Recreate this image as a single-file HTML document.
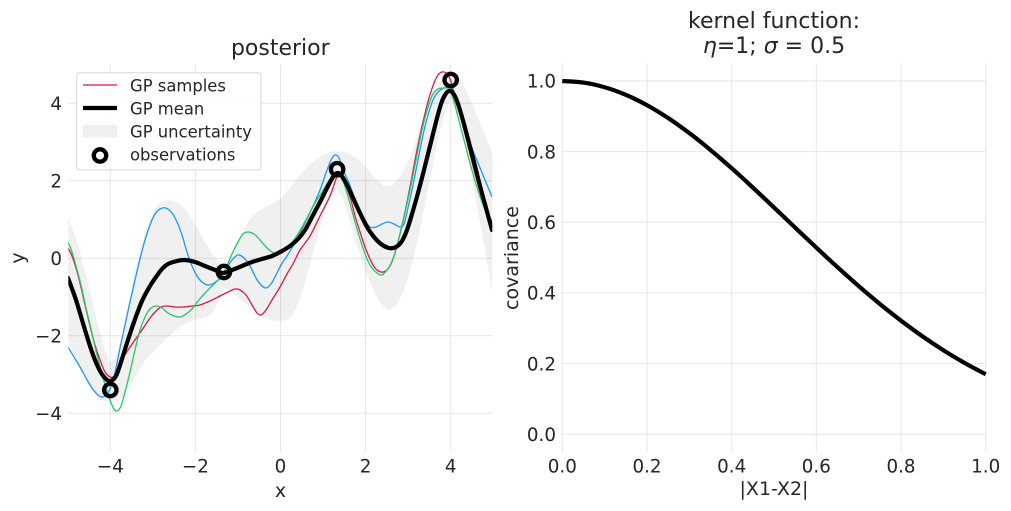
<!DOCTYPE html>
<html>
<head>
<meta charset="utf-8">
<style>
html,body{margin:0;padding:0;background:#fff;}
svg{display:block;font-family:"DejaVu Sans","Liberation Sans",sans-serif;}
.tk{font-size:18.3px;fill:#262626;}
.lb{font-size:19px;fill:#262626;}
.tt{font-size:22px;fill:#262626;}
.lg{font-size:16.4px;fill:#262626;}
.g{stroke:#e6e6e6;stroke-width:1;}
</style>
</head>
<body>
<svg id="svg" width="1011" height="511" viewBox="0 0 1011 511" xmlns="http://www.w3.org/2000/svg">
<defs>
<clipPath id="cl"><rect x="68.3" y="64.5" width="424" height="387.5"/></clipPath>
<clipPath id="cr"><rect x="560" y="60" width="428" height="395"/></clipPath>
</defs>

<!-- LEFT GRID -->
<g class="g">
<line x1="110.3" y1="64.5" x2="110.3" y2="452"/>
<line x1="195.4" y1="64.5" x2="195.4" y2="452"/>
<line x1="280.5" y1="64.5" x2="280.5" y2="452"/>
<line x1="365.6" y1="64.5" x2="365.6" y2="452"/>
<line x1="450.7" y1="64.5" x2="450.7" y2="452"/>
<line x1="68.3" y1="103.3" x2="492.3" y2="103.3"/>
<line x1="68.3" y1="180.8" x2="492.3" y2="180.8"/>
<line x1="68.3" y1="258.3" x2="492.3" y2="258.3"/>
<line x1="68.3" y1="335.8" x2="492.3" y2="335.8"/>
<line x1="68.3" y1="413.3" x2="492.3" y2="413.3"/>
</g>

<!-- RIGHT GRID -->
<g class="g">
<line x1="562.3" y1="63.3" x2="562.3" y2="452"/>
<line x1="647.0" y1="63.3" x2="647.0" y2="452"/>
<line x1="731.7" y1="63.3" x2="731.7" y2="452"/>
<line x1="816.3" y1="63.3" x2="816.3" y2="452"/>
<line x1="901.0" y1="63.3" x2="901.0" y2="452"/>
<line x1="985.7" y1="63.3" x2="985.7" y2="452"/>
<line x1="562.3" y1="434.3" x2="985.7" y2="434.3"/>
<line x1="562.3" y1="363.6" x2="985.7" y2="363.6"/>
<line x1="562.3" y1="292.9" x2="985.7" y2="292.9"/>
<line x1="562.3" y1="222.3" x2="985.7" y2="222.3"/>
<line x1="562.3" y1="151.6" x2="985.7" y2="151.6"/>
<line x1="562.3" y1="81.0" x2="985.7" y2="81.0"/>
</g>

<!-- LEFT PLOT -->
<g clip-path="url(#cl)">
<polygon fill="#000" fill-opacity="0.06" points="
60,210 68,218 74,232 80,252 86,275 92,300 98,325 104,348 110,362 116,357 122,335 128,305 134,276 140,250 147,226 155,208 162,201 170,200 178,203 186,210 195,224 204,240 212,254 220,262 226,264 232,258 238,245 245,228 252,216 260,210 270,205 280,199 290,188 300,175 310,164 320,157 332,151 345,152 355,157 365,166 375,178 384,186 392,186 400,177 410,157 420,128 430,100 440,82 450,73 458,77 466,90 474,108 482,128 492,152 500,170
500,320 492,290 484,245 478,212 472,180 466,148 460,120 455,104 450,101 444,115 438,140 432,170 426,200 420,230 414,256 408,278 402,295 396,306 389,310 381,304 374,292 367,275 360,255 354,236 348,214 342,196 337,191 332,194 326,207 320,228 314,250 308,272 302,293 296,309 290,318 283,321 275,321 265,318 255,311 245,303 237,297 230,290 224,288 218,303 212,314 205,318 195,320 185,324 175,331 165,340 155,350 145,361 138,372 131,385 124,397 117,402 111,399 105,402 98,398 90,388 82,372 75,356 68,340 60,325"/>

<polyline class="sm" fill="none" stroke="#dc1848" stroke-width="1.3" stroke-linejoin="round" points="68,248 72,256 76,268 80,283 85,305 90,326 95,345 100,360 105,372 110,377 114,376 118,367 123,358 130,347 137,337 144,327 150,318 156,311 161,307 167,306 175,307 183,307 192,306 200,305 210,301 220,296 228,292 235,289 240,290 246,295 252,305 257,313 261,315 266,310 272,300 280,287 287,274 294,262 300,250 310,236 320,216 330,196 336,179 339,172 343,177 347,188 351,200 355,216 360,232 365,247 370,259 375,268 381,272 387,270 393,259 399,238 405,212 411,182 417,150 423,122 429,98 434,83 438,75 442,72 446,73 450,79 455,96 460,114 466,138 472,162 478,184 485,205 492,222"/>

<polyline class="sm" fill="none" stroke="#2196f3" stroke-width="1.3" stroke-linejoin="round" points="68,347 74,357 80,367 86,378 92,388 98,395 103,397 108,393 112,383 116,368 120,348 125,325 130,302 135,280 140,259 145,240 150,225 155,214 160,209 166,208 172,213 177,222 182,235 187,252 192,266 197,276 202,282 208,285 214,283 220,278 226,269 232,260 238,255 244,258 250,266 256,278 261,285 266,288 271,284 276,275 281,265 287,256 293,246 300,233 307,219 314,204 320,190 326,173 331,160 335,155 339,158 344,172 349,183 354,196 360,210 365,220 370,227 376,227 382,224 388,222 394,224 400,227 404,224 408,208 413,185 418,160 423,135 428,115 433,100 438,92 444,88 450,87 455,94 460,108 466,128 472,148 478,163 485,180 492,197"/>

<polyline class="sm" fill="none" stroke="#27c766" stroke-width="1.3" stroke-linejoin="round" points="68,242 72,252 76,266 81,285 86,308 91,329 96,351 101,370 106,388 110,400 114,409 117,411 121,406 125,392 130,372 135,350 140,330 145,317 150,309 156,306 162,308 168,313 174,316 180,317 186,314 192,309 198,301 205,293 212,286 220,278 226,268 232,254 238,242 243,234 248,232 254,234 260,240 266,247 272,252 278,254 284,251 290,245 296,237 302,227 308,216 315,203 322,192 328,182 334,174 338,172 342,178 347,193 352,211 357,229 362,245 367,259 372,268 377,273 382,275 387,270 392,262 398,242 404,217 410,190 416,160 422,130 428,107 433,94 438,89 444,88 449,89 453,98 458,117 464,140 470,163 476,184 482,202 487,215 492,227"/>

<polyline class="sm" fill="none" stroke="#000" stroke-width="4.2" stroke-linejoin="round" stroke-linecap="round" points="68,278 76,300 85,330 92,352 98,367 104,377 110,381 116,376 121,362 127,343 134,322 142,301 150,286 156,277 162,269 168,264 177,261 185,260 195,262 205,266 215,270 223,273 232,270 242,266 252,262 262,259 272,256 282,251 290,246 298,239 305,230 312,217 320,202 327,188 333,177 337,173 341,175 347,185 353,198 360,213 367,227 374,237 381,244 389,248 396,247 402,241 407,230 412,214 418,193 424,170 430,146 436,122 441,104 445,95 449,91 453,93 457,101 462,117 468,139 474,162 480,186 486,208 492,230"/>

<g fill="none" stroke="#000" stroke-width="4.3">
<circle cx="110.3" cy="390" r="6.2"/>
<circle cx="223.9" cy="272" r="6.2"/>
<circle cx="337.1" cy="169.2" r="6.2"/>
<circle cx="450.7" cy="80" r="6.2"/>
</g>
</g>

<!-- LEGEND -->
<rect x="76.7" y="72.7" width="184.3" height="97.3" rx="3" ry="3" fill="#fff" fill-opacity="0.85" stroke="#d6d6d6" stroke-width="1"/>
<line x1="83" y1="85" x2="117" y2="85" stroke="#dc1848" stroke-width="1.3"/>
<line x1="83" y1="108" x2="117" y2="108" stroke="#000" stroke-width="4.2" stroke-linecap="butt"/>
<rect x="83" y="125" width="34" height="12.5" fill="#000" fill-opacity="0.06"/>
<circle cx="100" cy="155.5" r="6.2" fill="none" stroke="#000" stroke-width="4.3"/>
<text class="lg" x="130" y="91.5">GP samples</text>
<text class="lg" x="130" y="114.3">GP mean</text>
<text class="lg" x="130" y="137.5">GP uncertainty</text>
<text class="lg" x="130" y="160.7">observations</text>

<!-- LEFT TICKS -->
<g class="tk" text-anchor="end">
<text x="62" y="110">4</text>
<text x="62" y="187.5">2</text>
<text x="62" y="265">0</text>
<text x="62" y="342.5">−2</text>
<text x="62" y="420">−4</text>
</g>
<g class="tk" text-anchor="middle">
<text x="110.3" y="472.5">−4</text>
<text x="195.4" y="472.5">−2</text>
<text x="280.5" y="472.5">0</text>
<text x="365.6" y="472.5">2</text>
<text x="450.7" y="472.5">4</text>
</g>
<text class="lb" x="280.5" y="497" text-anchor="middle">x</text>
<text class="lb" transform="translate(24,258) rotate(-90)" text-anchor="middle">y</text>
<text class="tt" x="280.3" y="55" text-anchor="middle">posterior</text>

<!-- RIGHT PLOT -->
<g clip-path="url(#cr)">
<polyline class="sm" fill="none" stroke="#000" stroke-width="4.2" stroke-linejoin="round" points="562.3,81.0 583.47,82.56 604.64,87.21 625.81,94.81 646.98,105.18 668.15,118.05 689.32,133.09 710.49,149.95 731.66,168.24 752.83,187.55 773.99,207.48 795.17,227.62 816.34,247.65 837.51,267.22 858.68,286.07 879.85,303.94 901.02,320.68 922.19,336.14 943.36,350.24 964.53,362.95 985.7,374.27"/>
</g>
<g class="tk" text-anchor="end">
<text x="556" y="441">0.0</text>
<text x="556" y="370.3">0.2</text>
<text x="556" y="299.6">0.4</text>
<text x="556" y="229">0.6</text>
<text x="556" y="158.3">0.8</text>
<text x="556" y="87.7">1.0</text>
</g>
<g class="tk" text-anchor="middle">
<text x="562.3" y="472.5">0.0</text>
<text x="647.0" y="472.5">0.2</text>
<text x="731.7" y="472.5">0.4</text>
<text x="816.3" y="472.5">0.6</text>
<text x="901.0" y="472.5">0.8</text>
<text x="985.7" y="472.5">1.0</text>
</g>
<text class="lb" x="774" y="495" text-anchor="middle">|X1-X2|</text>
<text class="lb" transform="translate(518,258) rotate(-90)" text-anchor="middle">covariance</text>
<text class="tt" x="774" y="28" text-anchor="middle">kernel function:</text>
<text class="tt" x="774" y="53" text-anchor="middle"><tspan font-style="italic">η</tspan>=1; <tspan font-style="italic">σ</tspan> = 0.5</text>
</svg>
<script>
(function(){
  var ns="http://www.w3.org/2000/svg";
  var pls=document.querySelectorAll("polyline.sm");
  for(var k=0;k<pls.length;k++){
    var pl=pls[k];
    var raw=pl.getAttribute("points").trim().split(/\s+/);
    var p=[];
    for(var i=0;i<raw.length;i++){var xy=raw[i].split(",");p.push([parseFloat(xy[0]),parseFloat(xy[1])]);}
    if(p.length<3)continue;
    var d="M"+p[0][0]+","+p[0][1];
    for(var i=0;i<p.length-1;i++){
      var a=p[i-1]||p[i],b=p[i],c=p[i+1],e=p[i+2]||c;
      d+=" C"+(b[0]+(c[0]-a[0])/6).toFixed(2)+","+(b[1]+(c[1]-a[1])/6).toFixed(2)+" "+(c[0]-(e[0]-b[0])/6).toFixed(2)+","+(c[1]-(e[1]-b[1])/6).toFixed(2)+" "+c[0]+","+c[1];
    }
    var path=document.createElementNS(ns,"path");
    for(var j=0;j<pl.attributes.length;j++){
      var at=pl.attributes[j];
      if(at.name!=="points"&&at.name!=="class")path.setAttribute(at.name,at.value);
    }
    path.setAttribute("d",d);
    pl.parentNode.replaceChild(path,pl);
  }
})();
</script>
</body>
</html>
